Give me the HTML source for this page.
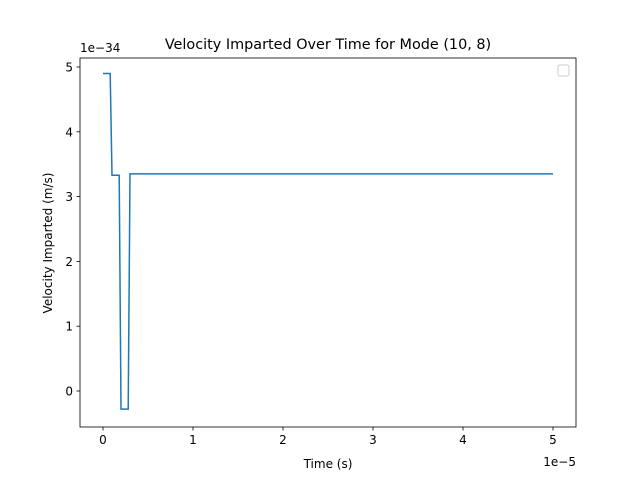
<!DOCTYPE html>
<html><head><meta charset="utf-8"><style>
body{margin:0;background:#fff;font-family:"Liberation Sans","DejaVu Sans",sans-serif;}
svg text{font-family:"DejaVu Sans","Liberation Sans",sans-serif;}
</style></head><body>
<svg id="chart" width="640" height="480" xmlns="http://www.w3.org/2000/svg">
<rect width="640" height="480" fill="#fff"/>
<text x="328" y="49" font-size="14.4" text-anchor="middle">Velocity Imparted Over Time for Mode (10, 8)</text>
<g id="xt"></g>
<g id="yt"></g>
<polyline id="line" fill="none" stroke="#1f77b4" stroke-width="1.5"/>
<rect x="80" y="58" width="496" height="369" fill="none" stroke="#000" stroke-width="0.8"/>
<rect x="558" y="65" width="11" height="11" rx="2" fill="#fff" stroke="#ccc" stroke-width="1"/>
<text x="328" y="468" font-size="12" text-anchor="middle">Time (s)</text>
<text transform="translate(52,243) rotate(-90)" font-size="12" text-anchor="middle">Velocity Imparted (m/s)</text>
<text x="80" y="52" font-size="12">1e−34</text>
<text x="576" y="466" font-size="12" text-anchor="end">1e−5</text>
</svg>
<script>
const times=[0,0.08,0.1,0.18,0.2,0.28,0.3,5];
const velocities=[4.9,4.9,3.33,3.33,-0.28,-0.28,3.35,3.35];
const xTicks=[0,1,2,3,4,5];
const yTicks=[0,1,2,3,4,5];
const ns="http://www.w3.org/2000/svg";
const X=v=>103+v*90, Y=v=>391-v*64.8;
const line=document.getElementById('line');
line.setAttribute('points',times.map((t,i)=>X(t)+','+Y(velocities[i])).join(' '));
const xt=document.getElementById('xt'), yt=document.getElementById('yt');
function mk(tag,attrs,p,txt){const e=document.createElementNS(ns,tag);for(const k in attrs)e.setAttribute(k,attrs[k]);if(txt!==undefined)e.textContent=txt;p.appendChild(e);return e;}
xTicks.forEach(v=>{
 const l=mk('line',{x1:X(v),x2:X(v),y1:427,y2:430.5,stroke:'#000','stroke-width':0.8},xt);
 
 
 const t=mk('text',{x:X(v),y:444,'font-size':12,'text-anchor':'middle'},xt,String(v));
 
 
});
yTicks.forEach(v=>{
 const l=mk('line',{x1:76.5,x2:80,y1:Y(v),y2:Y(v),stroke:'#000','stroke-width':0.8},yt);
 
 
 const t=mk('text',{x:73,y:Y(v)+4.5,'font-size':12,'text-anchor':'end'},yt,String(v));
 
 
});
</script>
</body></html>
